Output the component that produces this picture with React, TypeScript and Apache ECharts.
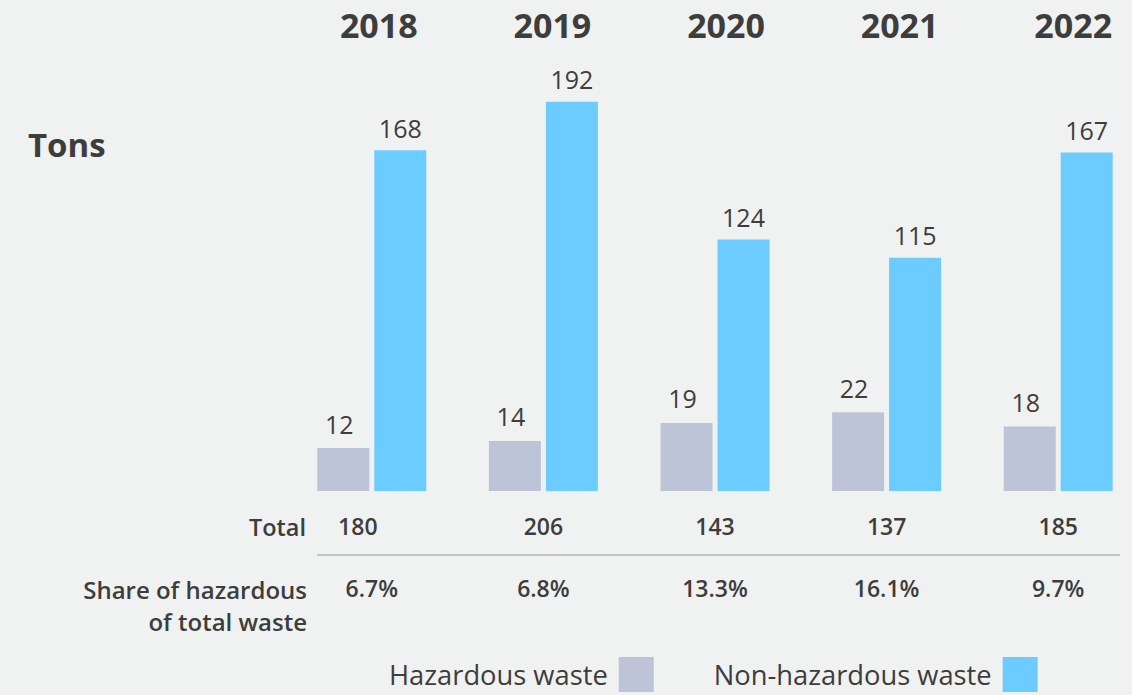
import React, { useEffect, useRef } from "react";
import * as echarts from "echarts";

const years = ["2018", "2019", "2020", "2021", "2022"];
const hazardous = [12, 14, 19, 22, 18];
const nonHazardous = [168, 192, 124, 115, 167];
const totals = [180, 206, 143, 137, 185];
const shares = ["6.7%", "6.8%", "13.3%", "16.1%", "9.7%"];

const TEXT = "#3d3d3d";
const FONT = "'Open Sans', sans-serif";

export default function App() {
  const ref = useRef<HTMLDivElement>(null);
  useEffect(() => {
    if (!ref.current) return;
    const chart = echarts.init(ref.current, undefined, { renderer: "svg" });
    chart.setOption({
      animation: false,
      backgroundColor: "#f0f2f1",
      textStyle: { fontFamily: FONT, color: TEXT },
      grid: [
        { left: 286, width: 858, top: 50, bottom: 204, outerBoundsMode: "none", containLabel: false },
        { left: 286, width: 858, top: 50, bottom: 204, outerBoundsMode: "none", containLabel: false },
        { left: 292, width: 868, top: 60, bottom: 204, outerBoundsMode: "none", containLabel: false },
      ],
      xAxis: [
        {
          type: "category",
          gridIndex: 0,
          data: years.map((y, i) =>
            i === 0 ? { value: y, textStyle: { padding: [0, 28, 0, 0] } } : y
          ),
          position: "bottom",
          axisLine: { show: false },
          axisTick: { show: false },
          axisLabel: {
            margin: 23,
            fontSize: 23,
            fontWeight: 600,
            color: TEXT,
            fontFamily: FONT,
            formatter: (_v: string, i: number) => String(totals[i]),
          },
        },
        {
          type: "category",
          gridIndex: 1,
          data: years,
          position: "bottom",
          axisLine: { show: false },
          axisTick: { show: false },
          axisLabel: {
            margin: 85,
            fontSize: 23,
            fontWeight: 600,
            color: TEXT,
            fontFamily: FONT,
            formatter: (_v: string, i: number) => shares[i],
          },
        },
        {
          type: "category",
          gridIndex: 2,
          data: years,
          position: "top",
          axisLine: { show: false },
          axisTick: { show: false },
          axisLabel: {
            margin: 18,
            fontSize: 34,
            fontWeight: "bold",
            color: TEXT,
            fontFamily: FONT,
          },
        },
      ],
      yAxis: [
        { type: "value", gridIndex: 0, min: 0, max: 217.5, show: false },
        { type: "value", gridIndex: 0, min: 0, max: 123.2, show: false },
        { type: "value", gridIndex: 1, show: false },
        { type: "value", gridIndex: 2, show: false },
      ],
      legend: {
        left: 389,
        top: 657,
        padding: 0,
        align: "right",
        itemWidth: 35,
        itemHeight: 35,
        itemGap: 60,
        icon: "rect",
        textStyle: { fontSize: 27.3, color: TEXT, fontFamily: FONT, padding: [4, 6, 0, 0] },
        data: ["Hazardous waste", "Non-hazardous waste"],
      },
      series: [
        {
          name: "Hazardous waste",
          type: "bar",
          xAxisIndex: 0,
          yAxisIndex: 1,
          data: hazardous,
          barWidth: 52,
          barGap: "9.6%",
          itemStyle: { color: "#bec4d8" },
          label: {
            show: true,
            position: "top",
            distance: 12,
            fontSize: 25,
            color: TEXT,
            fontFamily: FONT,
            offset: [-4, 0],
          },
        },
        {
          name: "Non-hazardous waste",
          type: "bar",
          xAxisIndex: 0,
          yAxisIndex: 0,
          data: nonHazardous,
          barWidth: 52,
          barGap: "9.6%",
          itemStyle: { color: "#6ccbff" },
          label: {
            show: true,
            position: "top",
            distance: 10,
            fontSize: 25,
            color: TEXT,
            fontFamily: FONT,
          },
        },
      ],
      graphic: [
        {
          type: "text",
          left: 28,
          top: 128,
          style: { text: "Tons", fontSize: 33, fontWeight: "bold", fill: TEXT, fontFamily: FONT },
        },
        {
          type: "text",
          x: 306,
          y: 527,
          style: {
            text: "Total",
            fontSize: 23.5,
            fontWeight: 600,
            fill: TEXT,
            fontFamily: FONT,
            align: "right",
            verticalAlign: "middle",
          },
        },
        {
          type: "text",
          x: 307,
          y: 605,
          style: {
            text: "Share of hazardous\nof total waste",
            fontSize: 24,
            fontWeight: 600,
            lineHeight: 32,
            fill: TEXT,
            fontFamily: FONT,
            align: "right",
            verticalAlign: "middle",
          },
        },
        {
          type: "line",
          shape: { x1: 317, y1: 555, x2: 1120, y2: 555 },
          style: { stroke: "#b4b4b4", lineWidth: 1.5 },
        },
      ],
    });
    return () => chart.dispose();
  }, []);
  return (
    <div
      ref={ref}
      style={{ position: "fixed", left: 0, top: 0, width: 1132, height: 695 }}
    />
  );
}
